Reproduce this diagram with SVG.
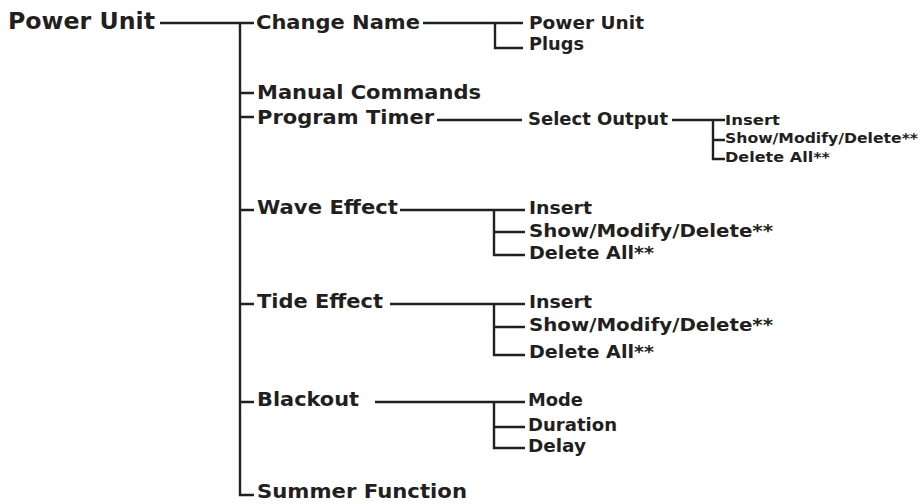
<svg xmlns="http://www.w3.org/2000/svg" width="922" height="504" viewBox="0 0 922 504">
<style>
text{font-family:"DejaVu Sans","Verdana",sans-serif;font-weight:bold;fill:#231f20}
.l1{font-size:23px}
.l2{font-size:20px}
.l3{font-size:17px}
.l4{font-size:14px}
.c{fill:none;stroke:#231f20;stroke-width:2.4;stroke-linecap:butt}
</style>
<rect width="922" height="504" fill="#ffffff"/>
<g id="connectors" class="c">
<path d="M160 23H240M240 21.8V495H254M240 23H254M240 93H254M240 117H254M240 210H254M240 304H254M240 402H254"/>
<path d="M423 23H495M495 21.8V48H523M495 23H523"/>
<path d="M437 120H522M672 120H713M713 118.8V159H725M713 140H725M713 120H725"/>
<path d="M400 210H494M494 208.8V255H525M494 232H525M494 210H525"/>
<path d="M390 304H494M494 302.8V355H525M494 327H525M494 304H525"/>
<path d="M375 402H494M494 400.8V448H525M494 427H525M494 402H525"/>
</g>
<g id="n-root"><text class="l1" x="8" y="29" textLength="147" lengthAdjust="spacingAndGlyphs">Power Unit</text></g>
<g id="n-change-name"><text class="l2" x="256" y="29" textLength="164" lengthAdjust="spacingAndGlyphs">Change Name</text></g>
<g id="n-cn-power-unit"><text class="l3" x="529" y="29" textLength="115" lengthAdjust="spacingAndGlyphs">Power Unit</text></g>
<g id="n-cn-plugs"><text class="l3" x="529" y="50" textLength="55" lengthAdjust="spacingAndGlyphs">Plugs</text></g>
<g id="n-manual"><text class="l2" x="257" y="99" textLength="224" lengthAdjust="spacingAndGlyphs">Manual Commands</text></g>
<g id="n-program-timer"><text class="l2" x="257" y="124" textLength="177" lengthAdjust="spacingAndGlyphs">Program Timer</text></g>
<g id="n-select-output"><text class="l3" x="528" y="125" textLength="140" lengthAdjust="spacingAndGlyphs">Select Output</text></g>
<g id="n-so-insert"><text class="l4" x="725" y="125" textLength="55" lengthAdjust="spacingAndGlyphs">Insert</text></g>
<g id="n-so-show"><text class="l4" x="725" y="143" textLength="193" lengthAdjust="spacingAndGlyphs">Show/Modify/Delete**</text></g>
<g id="n-so-delete"><text class="l4" x="725" y="162" textLength="105" lengthAdjust="spacingAndGlyphs">Delete All**</text></g>
<g id="n-wave"><text class="l2" x="257" y="214" textLength="141" lengthAdjust="spacingAndGlyphs">Wave Effect</text></g>
<g id="n-wave-insert"><text class="l3" x="529" y="214" textLength="63" lengthAdjust="spacingAndGlyphs">Insert</text></g>
<g id="n-wave-show"><text class="l3" x="529" y="237" textLength="244" lengthAdjust="spacingAndGlyphs">Show/Modify/Delete**</text></g>
<g id="n-wave-delete"><text class="l3" x="529" y="259" textLength="125" lengthAdjust="spacingAndGlyphs">Delete All**</text></g>
<g id="n-tide"><text class="l2" x="257" y="308" textLength="126" lengthAdjust="spacingAndGlyphs">Tide Effect</text></g>
<g id="n-tide-insert"><text class="l3" x="529" y="308" textLength="63" lengthAdjust="spacingAndGlyphs">Insert</text></g>
<g id="n-tide-show"><text class="l3" x="529" y="331" textLength="244" lengthAdjust="spacingAndGlyphs">Show/Modify/Delete**</text></g>
<g id="n-tide-delete"><text class="l3" x="529" y="358" textLength="125" lengthAdjust="spacingAndGlyphs">Delete All**</text></g>
<g id="n-blackout"><text class="l2" x="257" y="406" textLength="102" lengthAdjust="spacingAndGlyphs">Blackout</text></g>
<g id="n-bo-mode"><text class="l3" x="528" y="406" textLength="55" lengthAdjust="spacingAndGlyphs">Mode</text></g>
<g id="n-bo-duration"><text class="l3" x="528" y="431" textLength="89" lengthAdjust="spacingAndGlyphs">Duration</text></g>
<g id="n-bo-delay"><text class="l3" x="528" y="452" textLength="58" lengthAdjust="spacingAndGlyphs">Delay</text></g>
<g id="n-summer"><text class="l2" x="257" y="498" textLength="210" lengthAdjust="spacingAndGlyphs">Summer Function</text></g>
</svg>
